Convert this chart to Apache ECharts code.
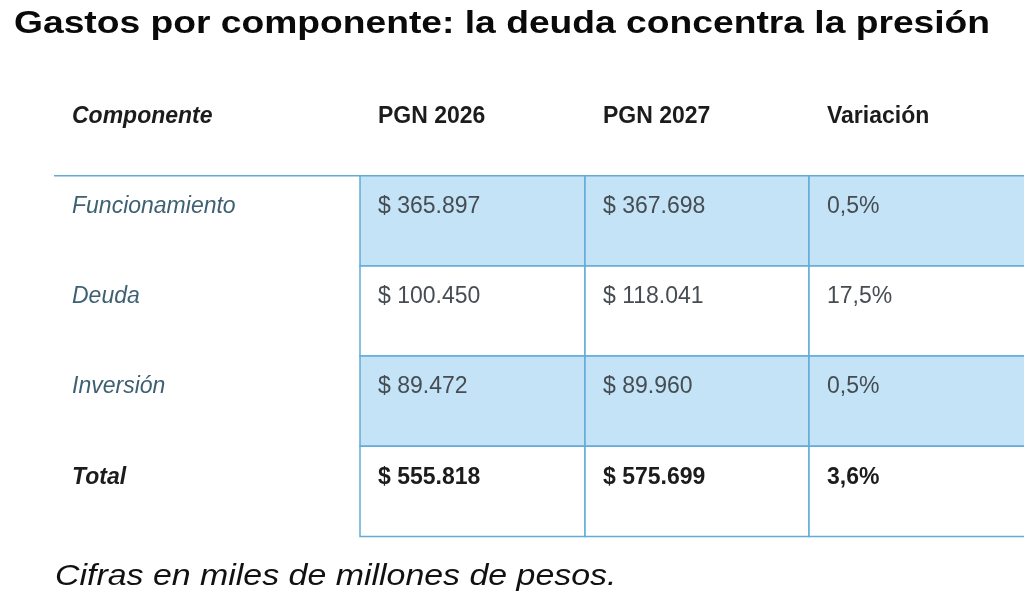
<!DOCTYPE html>
<html>
<head>
    <meta charset="utf-8">
    <title>Gastos por componente</title>
    <script src="https://cdn.jsdelivr.net/npm/echarts@6/dist/echarts.min.js"></script>
    <style>
        html, body { margin: 0; padding: 0; background: #fff; }
        #main { width: 1024px; height: 608px; }
    </style>
</head>
<body>
<div id="main"></div>
<script type="text/javascript">
    // datos de la tabla (miles de millones de pesos)
    var headers = ['Componente', 'PGN 2026', 'PGN 2027', 'Variación'];
    var components = ['Funcionamiento', 'Deuda', 'Inversión', 'Total'];
    var pgn2026 = [365897, 100450, 89472, 555818];
    var pgn2027 = [367698, 118041, 89960, 575699];
    var variacion = [0.5, 17.5, 0.5, 3.6];

    // bordes de columna en unidades del eje x (la primera columna es mas ancha)
    var colEdges = [0, 306, 531, 755, 980];
    var FONT = '"Liberation Sans", Arial, sans-serif';
    var LINE = '#62acd7';
    var FILL = '#c4e3f6';

    function money(v) {
        return '$ ' + String(v).replace(/\B(?=(\d{3})+(?!\d))/g, '.');
    }
    function pct(v) {
        return v.toFixed(1).replace('.', ',') + '%';
    }

    var rows = ['header'].concat(components);
    var cells = [];
    headers.forEach(function (h, c) { cells.push([c, 0, h]); });
    components.forEach(function (name, i) {
        cells.push([0, i + 1, name]);
        cells.push([1, i + 1, money(pgn2026[i])]);
        cells.push([2, i + 1, money(pgn2027[i])]);
        cells.push([3, i + 1, pct(variacion[i])]);
    });

    var myChart = echarts.init(document.getElementById('main'));

    function renderCell(params, api) {
        var col = api.value(0), row = api.value(1);
        var text = cells[params.dataIndex][2];
        var p0 = api.coord([colEdges[col], row]);
        var p1 = api.coord([colEdges[col + 1], row]);
        var h = api.size([0, 1])[1];
        var top = p0[1] - h / 2;
        var x0 = p0[0], w = p1[0] - p0[0];
        var isTotal = row === components.length;
        var children = [];

        if (row > 0 && col > 0) {
            children.push({
                type: 'rect',
                shape: { x: x0, y: top, width: w, height: h },
                style: { fill: (row === 1 || row === 3) ? FILL : '#fff', stroke: LINE, lineWidth: 1.5 }
            });
        }
        if (row === 1 && col === 0) {
            children.push({
                type: 'line',
                shape: { x1: x0, y1: top, x2: x0 + w, y2: top },
                style: { stroke: LINE, lineWidth: 1.5 }
            });
        }

        var color, weight = 'normal', fstyle = 'normal';
        if (row === 0) {
            color = '#1c1c1c'; weight = 'bold';
            if (col === 0) fstyle = 'italic';
        } else if (col === 0) {
            color = isTotal ? '#1c1c1c' : '#3d6072';
            fstyle = 'italic';
            if (isTotal) weight = 'bold';
        } else {
            color = isTotal ? '#1c1c1c' : '#454d53';
            if (isTotal) weight = 'bold';
        }

        children.push({
            type: 'text',
            x: x0 + 18,
            y: top + 31,
            style: {
                text: text,
                fontFamily: FONT,
                fontSize: 23,
                fontWeight: weight,
                fontStyle: fstyle,
                fill: color,
                align: 'left',
                verticalAlign: 'middle'
            }
        });
        return { type: 'group', children: children };
    }

    var option = {
        animation: false,
        backgroundColor: '#fff',
        graphic: [
            {
                type: 'text', x: 14, y: 24, scaleX: 1.163,
                style: {
                    text: 'Gastos por componente: la deuda concentra la presión',
                    fontFamily: FONT, fontSize: 32, fontWeight: 'bold', fill: '#0a0a0a',
                    align: 'left', verticalAlign: 'middle'
                }
            },
            {
                type: 'text', x: 55, y: 577, scaleX: 1.13,
                style: {
                    text: 'Cifras en miles de millones de pesos.',
                    fontFamily: FONT, fontSize: 30, fontStyle: 'italic', fill: '#111',
                    align: 'left', verticalAlign: 'middle'
                }
            }
        ],
        grid: { left: 54, top: 85.5, width: 980, height: 451, outerBoundsMode: 'none', containLabel: false },
        xAxis: { type: 'value', min: 0, max: colEdges[colEdges.length - 1], show: false },
        yAxis: { type: 'category', data: rows, inverse: true, show: false },
        series: [{
            type: 'custom',
            clip: false,
            renderItem: renderCell,
            data: cells.map(function (c) { return [c[0], c[1]]; })
        }]
    };

    myChart.setOption(option);
</script>
</body>
</html>
